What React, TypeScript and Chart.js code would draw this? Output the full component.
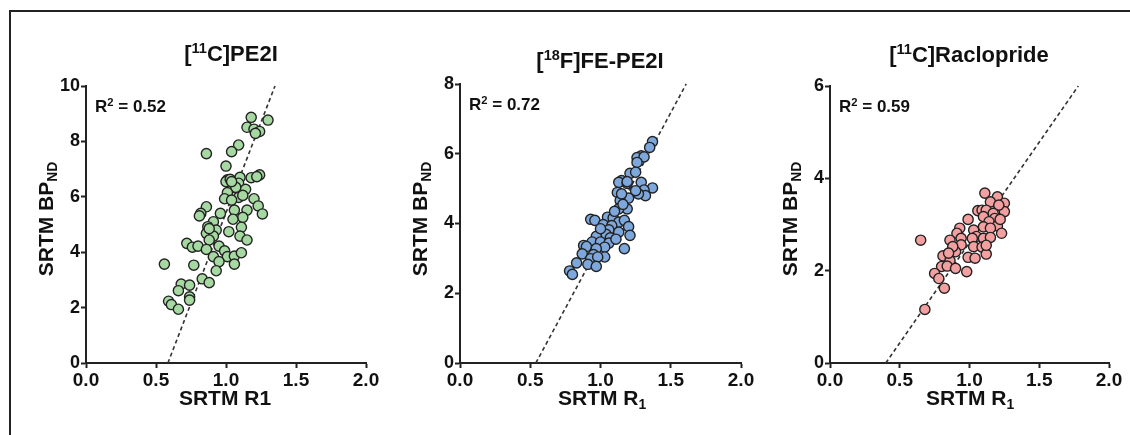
import React, { useEffect, useRef } from "react";
import { Chart, registerables } from "chart.js";
Chart.register(...registerables);

const FONT = "'Liberation Sans', Arial, Helvetica, sans-serif";

// ---------- DATA ----------
const xTicks = [0, 0.5, 1.0, 1.5, 2.0];

const pe2iR1 = [1.18, 1.30, 1.15, 1.20, 1.24, 1.21, 1.09, 1.04, 0.86, 1.00, 1.01, 1.00, 1.10, 1.18, 1.24, 1.22, 1.03, 1.09, 1.07, 1.14, 1.01, 1.09, 0.99, 1.04, 1.20, 1.23, 1.15, 1.26, 1.06, 0.86, 0.82, 0.81, 0.96, 1.12, 1.05, 0.91, 0.87, 0.93, 1.02, 1.11, 0.86, 0.91, 1.10, 1.15, 0.88, 0.72, 0.76, 0.80, 0.86, 0.95, 0.99, 0.91, 1.01, 1.06, 1.11, 0.95, 1.06, 0.56, 0.77, 0.93, 0.83, 0.88, 0.68, 0.74, 0.66, 0.74, 0.74, 0.59, 0.61, 0.66, 1.04, 0.88, 1.12];
const pe2iBP = [8.87, 8.77, 8.51, 8.44, 8.36, 8.29, 7.87, 7.63, 7.56, 7.11, 6.61, 6.55, 6.70, 6.69, 6.79, 6.73, 6.63, 6.49, 6.34, 6.27, 6.15, 5.98, 5.93, 5.88, 5.93, 5.67, 5.52, 5.38, 5.52, 5.64, 5.40, 5.31, 5.40, 5.26, 5.19, 5.10, 4.92, 4.80, 4.74, 4.90, 4.68, 4.58, 4.58, 4.44, 4.44, 4.32, 4.18, 4.22, 4.10, 4.22, 4.05, 3.84, 3.84, 3.86, 3.98, 3.66, 3.57, 3.57, 3.53, 3.33, 3.04, 2.90, 2.85, 2.81, 2.61, 2.39, 2.27, 2.23, 2.11, 1.94, 6.55, 4.85, 6.05];
const pe2iFitR1 = [0.585, 1.35];
const pe2iFitBP = [0, 10];
const pe2iYTicks = [0, 2, 4, 6, 8, 10];

const fepe2iR1 = [1.37, 1.35, 1.29, 1.26, 1.31, 1.26, 1.21, 1.25, 1.15, 1.13, 1.19, 1.29, 1.37, 1.31, 1.32, 1.27, 1.25, 1.12, 1.20, 1.14, 1.15, 1.19, 1.13, 1.05, 1.09, 0.93, 0.96, 1.13, 1.17, 1.02, 1.08, 1.20, 1.06, 1.13, 1.01, 1.04, 1.21, 0.97, 1.07, 0.94, 1.00, 1.06, 0.88, 0.90, 1.03, 0.97, 1.17, 0.87, 0.95, 1.03, 0.93, 0.98, 0.83, 0.91, 0.97, 0.78, 0.80, 1.19, 1.10, 1.16, 1.00, 1.11];
const fepe2iBP = [6.35, 6.18, 5.94, 5.89, 5.91, 5.75, 5.44, 5.47, 5.23, 5.18, 5.15, 5.18, 5.02, 4.96, 4.80, 4.85, 4.94, 4.89, 4.73, 4.66, 4.85, 4.42, 4.42, 4.18, 4.16, 4.12, 4.09, 4.04, 4.09, 3.97, 3.94, 3.91, 3.82, 3.75, 3.71, 3.69, 3.66, 3.63, 3.59, 3.47, 3.47, 3.44, 3.37, 3.34, 3.32, 3.28, 3.28, 3.13, 3.11, 3.04, 2.99, 3.04, 2.87, 2.83, 2.77, 2.64, 2.54, 5.20, 4.35, 4.55, 3.85, 3.55];
const fepe2iFitR1 = [0.54, 1.61];
const fepe2iFitBP = [0, 8];
const fepe2iYTicks = [0, 2, 4, 6, 8];

const racR1 = [1.11, 1.20, 1.15, 1.25, 1.25, 1.21, 1.06, 1.09, 1.12, 1.17, 1.10, 1.18, 0.99, 1.14, 1.20, 1.10, 1.15, 0.93, 1.03, 1.23, 0.91, 0.86, 0.94, 1.05, 1.02, 1.10, 1.15, 0.65, 0.94, 1.03, 1.09, 0.90, 0.81, 0.99, 1.12, 0.86, 0.80, 0.84, 0.90, 0.98, 0.75, 0.78, 0.82, 0.68, 0.88, 1.22, 1.04, 0.85, 1.12];
const racBP = [3.68, 3.60, 3.49, 3.46, 3.28, 3.42, 3.30, 3.31, 3.31, 3.24, 3.17, 3.13, 3.11, 3.06, 2.97, 2.95, 2.92, 2.92, 2.88, 2.81, 2.81, 2.66, 2.70, 2.74, 2.70, 2.70, 2.72, 2.66, 2.56, 2.52, 2.51, 2.41, 2.32, 2.29, 2.36, 2.22, 2.09, 2.10, 2.05, 1.98, 1.94, 1.83, 1.62, 1.16, 2.52, 3.11, 2.27, 2.38, 2.55];
const racFitR1 = [0.40, 1.78];
const racFitBP = [0, 6];
const racYTicks = [0, 2, 4, 6];

type Seg = { t: string; m?: "sup" | "sub" };

const panels = [
  {
    title: [{ t: "[" }, { t: "11", m: "sup" }, { t: "C]PE2I" }] as Seg[],
    xTitle: [{ t: "SRTM R1" }] as Seg[],
    r2: [{ t: "R" }, { t: "2", m: "sup" }, { t: " = 0.52" }] as Seg[],
    r1: pe2iR1, bp: pe2iBP, fitR1: pe2iFitR1, fitBP: pe2iFitBP, yTicks: pe2iYTicks,
    color: "#a6d8a2",
    plotLeft: 86, plotRight: 366, plotTop: 86, plotBottom: 363,
    titleX: 231, titleY: 53, xTitleX: 225,
  },
  {
    title: [{ t: "[" }, { t: "18", m: "sup" }, { t: "F]FE-PE2I" }] as Seg[],
    xTitle: [{ t: "SRTM R" }, { t: "1", m: "sub" }] as Seg[],
    r2: [{ t: "R" }, { t: "2", m: "sup" }, { t: " = 0.72" }] as Seg[],
    r1: fepe2iR1, bp: fepe2iBP, fitR1: fepe2iFitR1, fitBP: fepe2iFitBP, yTicks: fepe2iYTicks,
    color: "#7ea7dc",
    plotLeft: 460, plotRight: 741, plotTop: 84, plotBottom: 363,
    titleX: 600, titleY: 60, xTitleX: 602,
  },
  {
    title: [{ t: "[" }, { t: "11", m: "sup" }, { t: "C]Raclopride" }] as Seg[],
    xTitle: [{ t: "SRTM R" }, { t: "1", m: "sub" }] as Seg[],
    r2: [{ t: "R" }, { t: "2", m: "sup" }, { t: " = 0.59" }] as Seg[],
    r1: racR1, bp: racBP, fitR1: racFitR1, fitBP: racFitBP, yTicks: racYTicks,
    color: "#f4a0a0",
    plotLeft: 830, plotRight: 1109, plotTop: 86, plotBottom: 363,
    titleX: 969, titleY: 54, xTitleX: 970,
  },
];

const yTitle: Seg[] = [{ t: "SRTM BP" }, { t: "ND", m: "sub" }];

function drawRich(ctx: CanvasRenderingContext2D, segs: Seg[], x: number, y: number, size: number, align: "center" | "left") {
  const small = size * 0.66;
  ctx.save();
  let total = 0;
  const widths = segs.map((s) => {
    ctx.font = `bold ${s.m ? small : size}px ${FONT}`;
    const w = ctx.measureText(s.t).width;
    total += w;
    return w;
  });
  let cx = align === "center" ? x - total / 2 : x;
  const base = y + size * 0.36;
  ctx.fillStyle = "#111";
  ctx.textBaseline = "alphabetic";
  ctx.textAlign = "left";
  segs.forEach((s, i) => {
    ctx.font = `bold ${s.m ? small : size}px ${FONT}`;
    const dy = s.m === "sup" ? -size * 0.36 : s.m === "sub" ? size * 0.22 : 0;
    ctx.fillText(s.t, cx, base + dy);
    cx += widths[i];
  });
  ctx.restore();
}

const H = 435;
const LEFT_SPACE = 80;
const RIGHT_SPACE = 30;

function Panel({ p }: { p: (typeof panels)[number] }) {
  const ref = useRef<HTMLCanvasElement | null>(null);
  const canvasLeft = p.plotLeft - LEFT_SPACE;
  const width = p.plotRight - p.plotLeft + LEFT_SPACE + RIGHT_SPACE;

  useEffect(() => {
    if (!ref.current) return;
    const pts = p.r1.map((x, i) => ({ x, y: p.bp[i] }));
    const fit = p.fitR1.map((x, i) => ({ x, y: p.fitBP[i] }));
    const yMax = p.yTicks[p.yTicks.length - 1];
    const textPlugin = {
      id: "richText",
      afterDraw(chart: any) {
        const ctx = chart.ctx as CanvasRenderingContext2D;
        const a = chart.chartArea;
        drawRich(ctx, p.title, p.titleX - canvasLeft, p.titleY, 22, "center");
        drawRich(ctx, p.xTitle, p.xTitleX - canvasLeft, a.bottom + 34, 21, "center");
        drawRich(ctx, p.r2, a.left + 9, a.top + 20, 17, "left");
        ctx.save();
        ctx.translate(a.left - 41, 219);
        ctx.rotate(-Math.PI / 2);
        drawRich(ctx, yTitle, 0, 0, 21, "center");
        ctx.restore();
      },
    };
    const chart = new Chart(ref.current, {
      type: "scatter",
      data: {
        datasets: [
          {
            data: pts,
            pointRadius: 5.1,
            pointHoverRadius: 5.1,
            pointBackgroundColor: p.color,
            pointBorderColor: "#222",
            pointBorderWidth: 1.4,
            order: 0,
          },
          {
            data: fit,
            showLine: true,
            borderColor: "#333",
            borderWidth: 1.6,
            borderDash: [4, 3],
            pointRadius: 0,
            order: 1,
            clip: false as any,
          },
        ],
      },
      options: {
        animation: false,
        responsive: false,
        maintainAspectRatio: false,
        layout: { padding: { left: 0, right: RIGHT_SPACE, top: p.plotTop, bottom: 0 } },
        plugins: { legend: { display: false }, tooltip: { enabled: false }, title: { display: false } },
        scales: {
          x: {
            type: "linear",
            min: xTicks[0],
            max: xTicks[xTicks.length - 1],
            afterBuildTicks: (s: any) => { s.ticks = xTicks.map((v) => ({ value: v })); },
            ticks: {
              callback: (v: any) => Number(v).toFixed(1),
              font: { family: FONT, size: 19, weight: "bold" },
              color: "#111",
              padding: 1,
              maxRotation: 0,
              autoSkip: false,
            },
            grid: { drawOnChartArea: false, drawTicks: true, tickLength: 5, tickWidth: 2, color: "#222" },
            border: { display: true, color: "#222", width: 2 },
            afterFit: (s: any) => { s.height = H - p.plotBottom; s.paddingLeft = 0; s.paddingRight = 0; },
          },
          y: {
            type: "linear",
            min: 0,
            max: yMax,
            afterBuildTicks: (s: any) => { s.ticks = p.yTicks.map((v) => ({ value: v })); },
            ticks: {
              font: { family: FONT, size: 18, weight: "bold" },
              color: "#111",
              padding: 1,
              autoSkip: false,
            },
            grid: { drawOnChartArea: false, drawTicks: true, tickLength: 5, tickWidth: 2, color: "#222" },
            border: { display: true, color: "#222", width: 2 },
            afterFit: (s: any) => { s.width = LEFT_SPACE; s.paddingTop = 0; s.paddingBottom = 0; },
          },
        },
      },
      plugins: [textPlugin],
    } as any);
    return () => chart.destroy();
  }, []);

  return (
    <canvas
      ref={ref}
      width={width}
      height={H}
      style={{ position: "absolute", left: canvasLeft, top: 0, width, height: H }}
    />
  );
}

export default function App() {
  return (
    <div style={{ position: "absolute", left: 0, top: 0, width: 1130, height: 435, background: "#fff", overflow: "hidden" }}>
      <div
        style={{
          position: "absolute",
          left: 9,
          top: 10,
          width: 1130,
          height: 440,
          borderTop: "2px solid #222",
          borderLeft: "2px solid #222",
          boxSizing: "border-box",
        }}
      />
      {panels.map((p, i) => (
        <Panel key={i} p={p} />
      ))}
    </div>
  );
}
